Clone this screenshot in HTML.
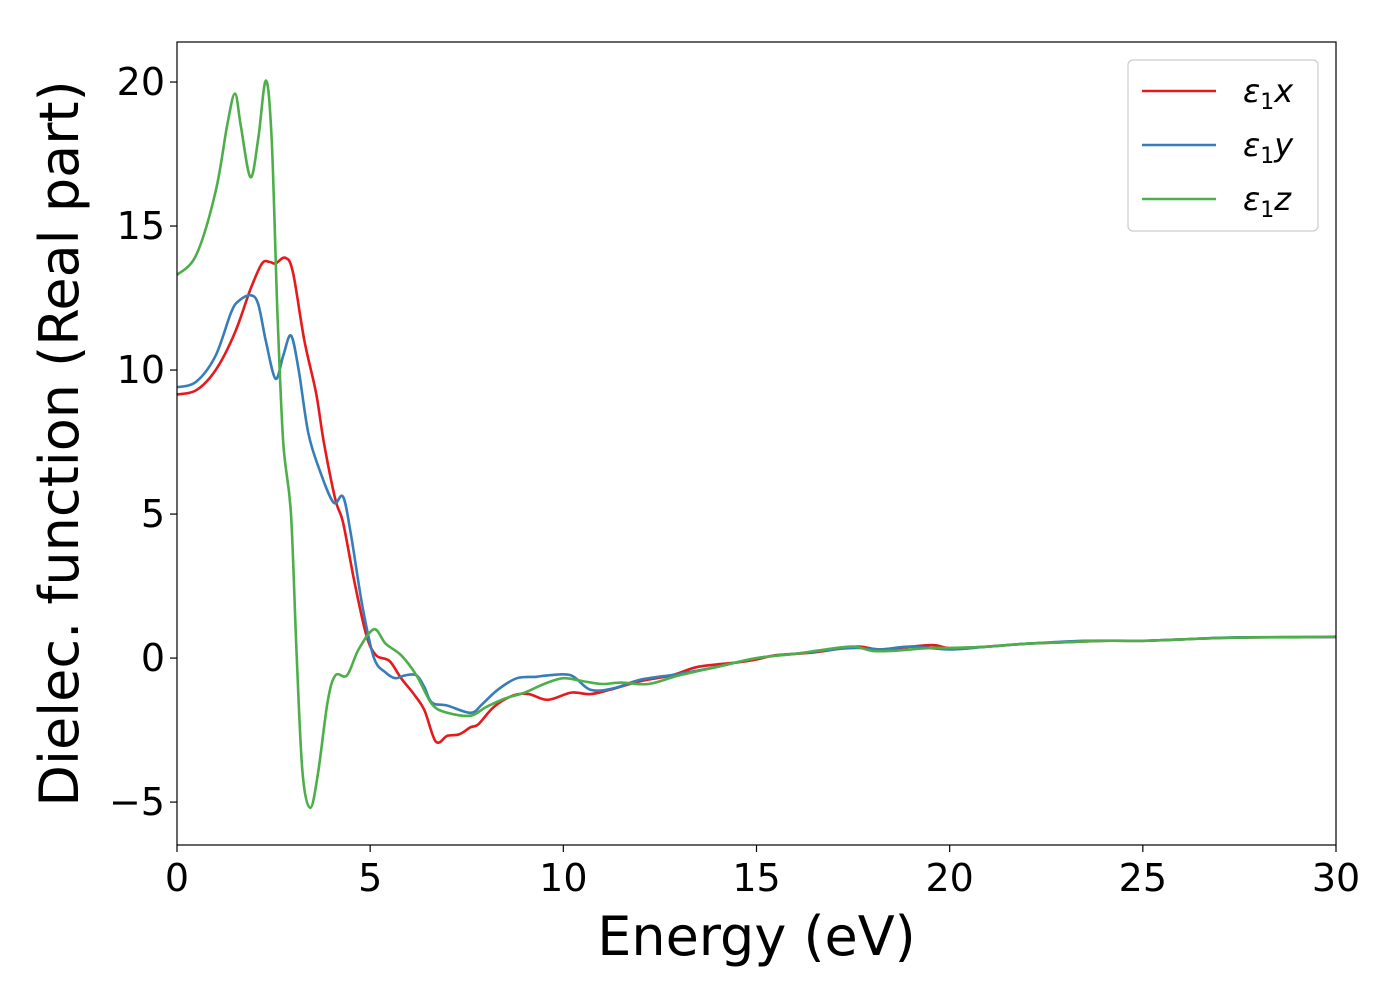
<!DOCTYPE html>
<html><head><meta charset="utf-8"><style>
body{margin:0;background:#fff}
svg text{font-family:"DejaVu Sans","Liberation Sans",sans-serif}
</style></head><body>
<svg id="chart" width="1400" height="1000" xmlns="http://www.w3.org/2000/svg">
<rect x="0" y="0" width="1400" height="1000" fill="#fff"/>
<g id="plot"></g>
<g id="axes"></g>
</svg>
<script>
const xTicks=[0,5,10,15,20,25,30];
const yTicks=[-5,0,5,10,15,20];
const seriesNames=["ε₁x","ε₁y","ε₁z"];
const xE=[0,0.5,1.0,1.5,1.9,2.2,2.4,2.55,2.8,3.0,3.3,3.6,3.8,4.1,4.3,4.6,4.9,5.15,5.5,5.8,6.1,6.4,6.7,7.0,7.3,7.6,7.8,8.2,8.7,9.1,9.6,10.2,10.7,11.2,12,12.8,13.5,14.5,15,15.5,16.5,17.6,18.2,19.5,20,21,22,23,24,25,26,27,28,30];
const xV=[9.15,9.3,10.0,11.3,12.8,13.7,13.75,13.7,13.9,13.4,11,9.2,7.5,5.5,4.7,2.6,0.8,0.1,-0.1,-0.7,-1.2,-1.8,-2.9,-2.7,-2.65,-2.4,-2.3,-1.7,-1.3,-1.25,-1.45,-1.2,-1.25,-1.1,-0.8,-0.6,-0.3,-0.15,-0.05,0.1,0.2,0.4,0.3,0.45,0.35,0.4,0.5,0.55,0.6,0.6,0.65,0.7,0.72,0.73];
const yE=[0,0.5,1.0,1.4,1.6,1.9,2.1,2.3,2.55,2.75,2.95,3.15,3.4,3.7,4.05,4.3,4.5,4.8,5.1,5.4,5.65,5.9,6.2,6.4,6.6,7.0,7.6,7.9,8.3,8.8,9.3,9.6,10.2,10.7,11.3,12,13,14,15,16,17,17.6,18.2,19,20,21,22,23.5,25,26,27.5,30];
const yV=[9.4,9.6,10.5,12.0,12.4,12.6,12.3,11,9.7,10.5,11.2,10,7.8,6.5,5.4,5.6,4.3,1.8,0,-0.5,-0.7,-0.6,-0.6,-1.0,-1.55,-1.65,-1.9,-1.6,-1.1,-0.7,-0.65,-0.6,-0.6,-1.1,-1.05,-0.75,-0.55,-0.3,0,0.15,0.3,0.35,0.3,0.4,0.3,0.4,0.5,0.6,0.6,0.65,0.72,0.73];
const zE=[0,0.5,1.0,1.3,1.5,1.65,1.9,2.1,2.3,2.45,2.6,2.75,2.95,3.1,3.25,3.45,3.65,3.9,4.1,4.4,4.7,5.1,5.4,5.8,6.2,6.6,7.0,7.6,8.0,8.5,9.0,9.5,10,10.5,11,11.5,12.2,13,14,15,16,16.8,17.5,18,18.5,19.5,20,21,22,23,24,25,26,27,28,29,30];
const zV=[13.3,14.0,16.2,18.5,19.6,18.5,16.7,18,20.05,18,12,7.5,5,0,-4,-5.2,-4,-1.5,-0.6,-0.6,0.3,1.0,0.5,0.1,-0.6,-1.6,-1.9,-2.0,-1.7,-1.4,-1.2,-0.9,-0.7,-0.8,-0.9,-0.85,-0.9,-0.6,-0.3,0,0.15,0.3,0.4,0.25,0.25,0.35,0.35,0.4,0.5,0.55,0.6,0.6,0.65,0.7,0.72,0.72,0.75];
const colors=["#e41a1c","#377eb8","#4daf4a"];

const L=177,R=1336,T=42,B=845,xMin=0,xMax=30,yMin=-6.49,yMax=21.39;
const sx=v=>L+(v-xMin)/(xMax-xMin)*(R-L);
const sy=v=>B-(v-yMin)/(yMax-yMin)*(B-T);
const NS="http://www.w3.org/2000/svg";
function mk(t,a,p){const e=document.createElementNS(NS,t);for(const k in a)e.setAttribute(k,a[k]);p.appendChild(e);return e;}
function pathFor(xs,ys){
  const p=xs.map((x,i)=>[sx(x),sy(ys[i])]);
  let d="M"+p[0][0].toFixed(1)+","+p[0][1].toFixed(1);
  for(let i=0;i<p.length-1;i++){
    const p0=p[i-1]||p[i],p1=p[i],p2=p[i+1],p3=p[i+2]||p2;
    const c1=[p1[0]+(p2[0]-p0[0])/6,p1[1]+(p2[1]-p0[1])/6];
    const c2=[p2[0]-(p3[0]-p1[0])/6,p2[1]-(p3[1]-p1[1])/6];
    d+=`C${c1[0].toFixed(1)},${c1[1].toFixed(1)} ${c2[0].toFixed(1)},${c2[1].toFixed(1)} ${p2[0].toFixed(1)},${p2[1].toFixed(1)}`;
  }
  return d;
}
const plot=document.getElementById('plot');
const axes=document.getElementById('axes');
const cp=mk('clipPath',{id:'clip'},document.getElementById('chart'));
mk('rect',{x:L,y:T,width:R-L,height:B-T},cp);
const data=[[xE,xV],[yE,yV],[zE,zV]];
const lineNames=['line-eps1x','line-eps1y','line-eps1z'];
data.forEach((s,i)=>{
  const el=mk('path',{d:pathFor(s[0],s[1]),fill:'none',stroke:colors[i],'stroke-width':2.6,'clip-path':'url(#clip)'},plot);
  
  
});
const frame=mk('rect',{x:L,y:T,width:R-L,height:B-T,fill:'none',stroke:'#000','stroke-width':1.2},axes);


xTicks.forEach(v=>{
  const t=mk('line',{x1:sx(v),x2:sx(v),y1:B,y2:B+7,stroke:'#000','stroke-width':1.2},axes);
  
  
  const l=mk('text',{x:sx(v),y:B+46,'text-anchor':'middle','font-size':38},axes);
  l.textContent=v;
  
  
});
yTicks.forEach(v=>{
  const t=mk('line',{x1:L-7,x2:L,y1:sy(v),y2:sy(v),stroke:'#000','stroke-width':1.2},axes);
  
  
  const l=mk('text',{x:L-12,y:sy(v)+13,'text-anchor':'end','font-size':38},axes);
  l.textContent=v<0?"−"+Math.abs(v):v;
  
  
});
const xt=mk('text',{x:(L+R)/2,y:955,'text-anchor':'middle','font-size':54},axes);
xt.textContent="Energy (eV)";


const yt=mk('text',{x:0,y:0,'text-anchor':'middle','font-size':54,transform:`translate(78,${(T+B)/2}) rotate(-90)`},axes);
yt.textContent="Dielec. function (Real part)";


const lg=mk('g',{},axes);


mk('rect',{x:1128,y:60,width:190,height:171,rx:5,fill:'#fff',stroke:'#ccc','stroke-width':1.2},lg);
seriesNames.forEach((n,i)=>{
  const y=91+i*54;
  const ln=mk('line',{x1:1142,x2:1216,y1:y,y2:y,stroke:colors[i],'stroke-width':2.6},lg);
  
  
  const tx=mk('text',{x:1243,y:y+11,'font-size':32,'font-style':'italic'},lg);
  tx.innerHTML='ε<tspan font-style="normal" font-size="22" dy="7">1</tspan><tspan dy="-7">'+n.slice(-1)+'</tspan>';
  
  
});
</script>
</body></html>
